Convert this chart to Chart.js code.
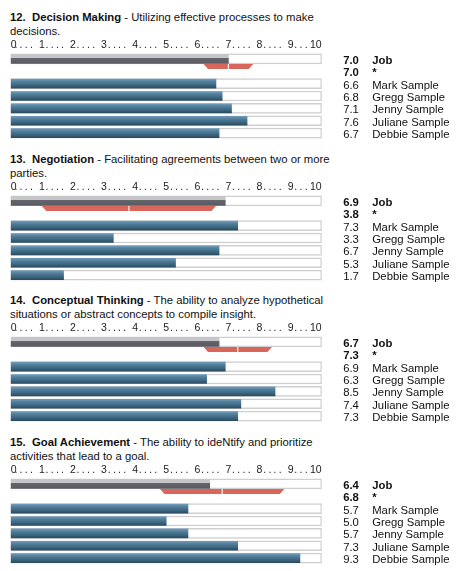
<!DOCTYPE html>
<html>
<head>
<meta charset="utf-8">
<script src="https://cdn.jsdelivr.net/npm/chart.js@4.4.1/dist/chart.umd.min.js"></script>
<style>
  body { margin: 0; background: #fff; font-family: 'Liberation Sans', Arial, sans-serif; color: #111; }
  .section { height: 141.5px; position: relative; }
  .title { position: absolute; left: 10px; top: 10px; font-size: 11.3px; line-height: 14px; white-space: nowrap; }
  .title b { font-weight: bold; }
  .section canvas { position: absolute; left: 0; top: 36px; }
</style>
</head>
<body>
<div id="app"></div>
<script>
const FONT = "'Liberation Sans', Arial, sans-serif";

const skillNumbers = [12, 13, 14, 15];
const skillNames = ['Decision Making', 'Negotiation', 'Conceptual Thinking', 'Goal Achievement'];
const skillDescriptions = [
  ['Utilizing effective processes to make', 'decisions.'],
  ['Facilitating agreements between two or more', 'parties.'],
  ['The ability to analyze hypothetical', 'situations or abstract concepts to compile insight.'],
  ['The ability to ideNtify and prioritize', 'activities that lead to a goal.']
];

const people = ['Mark Sample', 'Gregg Sample', 'Jenny Sample', 'Juliane Sample', 'Debbie Sample'];
const tickLabels = ['0', '1', '2', '3', '4', '5', '6', '7', '8', '9', '10'];

const jobScores = [7.0, 6.9, 6.7, 6.4];
const starScores = [7.0, 3.8, 7.3, 6.8];
const rangeLow = [6.2, 1.0, 6.2, 4.8];
const rangeHigh = [7.8, 6.6, 8.4, 8.8];

const decisionScores = [6.6, 6.8, 7.1, 7.6, 6.7];
const negotiationScores = [7.3, 3.3, 6.7, 5.3, 1.7];
const conceptualScores = [6.9, 6.3, 8.5, 7.4, 7.3];
const goalScores = [5.7, 5.0, 5.7, 7.3, 9.3];
const personScores = [decisionScores, negotiationScores, conceptualScores, goalScores];

const rowLabels = ['Job', '*'].concat(people);

// gradient fill for the bars, gray for the job row, blue for people
function barFill(ctx) {
  if (ctx.type !== 'data') return '#4b7893';
  const chart = ctx.chart;
  const y = chart.scales.y;
  const c = y ? y.getPixelForValue(ctx.dataIndex) : NaN;
  if (!isFinite(c)) return ctx.dataIndex === 0 ? '#606068' : '#4b7893';
  const g = chart.ctx.createLinearGradient(0, c - 4.5, 0, c + 4.5);
  if (ctx.dataIndex === 0) {
    g.addColorStop(0, '#c6c6c8');
    g.addColorStop(0.4, '#c6c6c8');
    g.addColorStop(0.41, '#65656d');
    g.addColorStop(1, '#5a5a62');
  } else {
    g.addColorStop(0, '#6f9bb8');
    g.addColorStop(0.3, '#517e9a');
    g.addColorStop(0.65, '#3e6882');
    g.addColorStop(1, '#2a4c62');
  }
  return g;
}

// red range under the job bar and the value/name columns on the right
const sectionExtras = {
  id: 'sectionExtras',
  afterDatasetsDraw(chart, args, opts) {
    const s = opts.section;
    const { ctx, scales: { x, y }, chartArea } = chart;
    const top = y.getPixelForValue(0) + 5;
    const h = 5;
    const l = x.getPixelForValue(rangeLow[s]);
    const r = x.getPixelForValue(rangeHigh[s]);
    ctx.save();
    ctx.fillStyle = '#d8665a';
    ctx.beginPath();
    ctx.moveTo(l, top);
    ctx.lineTo(r, top);
    ctx.lineTo(r - 4.5, top + h);
    ctx.lineTo(l + 4.5, top + h);
    ctx.closePath();
    ctx.fill();
    const m = x.getPixelForValue(starScores[s]);
    ctx.fillStyle = '#fdf1ef';
    ctx.fillRect(m - 0.6, top, 1.2, h);

    const values = [jobScores[s], starScores[s]].concat(personScores[s]);
    ctx.fillStyle = '#111';
    ctx.textBaseline = 'middle';
    ctx.textAlign = 'left';
    rowLabels.forEach((name, i) => {
      const cy = y.getPixelForValue(i) + 2;
      ctx.font = (i < 2 ? 'bold ' : '') + '11.3px ' + FONT;
      ctx.fillText(values[i].toFixed(1), chartArea.right + 21.5, cy);
      ctx.fillText(name, chartArea.right + 50.5, cy);
    });
    ctx.restore();
  }
};

const app = document.getElementById('app');

skillNumbers.forEach((num, s) => {
  const sec = document.createElement('div');
  sec.className = 'section';
  const title = document.createElement('div');
  title.className = 'title';
  title.innerHTML = '<b>' + num + '.&nbsp; ' + skillNames[s] + '</b> - ' +
    skillDescriptions[s][0] + '<br>' + skillDescriptions[s][1];
  sec.appendChild(title);
  const canvas = document.createElement('canvas');
  canvas.width = 463;
  canvas.height = 105;
  sec.appendChild(canvas);
  app.appendChild(sec);

  new Chart(canvas, {
    type: 'bar',
    data: {
      labels: rowLabels,
      datasets: [
        {
          label: 'Score',
          data: [jobScores[s], null].concat(personScores[s]),
          backgroundColor: barFill,
          barThickness: 9,
          borderSkipped: false,
          order: 1
        },
        {
          label: 'Track',
          data: [10, null, 10, 10, 10, 10, 10],
          backgroundColor: '#ffffff',
          borderColor: '#cfcfcf',
          borderWidth: 1.5,
          borderSkipped: false,
          barThickness: 10,
          order: 2
        }
      ]
    },
    options: {
      indexAxis: 'y',
      responsive: false,
      animation: false,
      events: [],
      layout: { padding: { left: 10.7, right: 141.3, top: 2.15, bottom: 1.75 } },
      datasets: { bar: { grouped: false } },
      plugins: {
        legend: { display: false },
        tooltip: { enabled: false },
        sectionExtras: { section: s }
      },
      scales: {
        x: {
          position: 'top',
          min: 0,
          max: 10,
          grid: { display: false, drawTicks: false },
          border: { display: false },
          ticks: {
            stepSize: 1 / 6,
            autoSkip: false,
            maxRotation: 0,
            align: 'inner',
            padding: 1,
            color: '#222',
            font: { size: 10.5, family: FONT },
            callback: (v) => {
              const k = Math.round(v * 6);
              if (k % 6 === 0) return tickLabels[k / 6];
              if (k % 6 === 5 || k === 58) return '';
              return '.';
            }
          }
        },
        y: {
          display: false
        }
      }
    },
    plugins: [sectionExtras]
  });
});
</script>
</body>
</html>
